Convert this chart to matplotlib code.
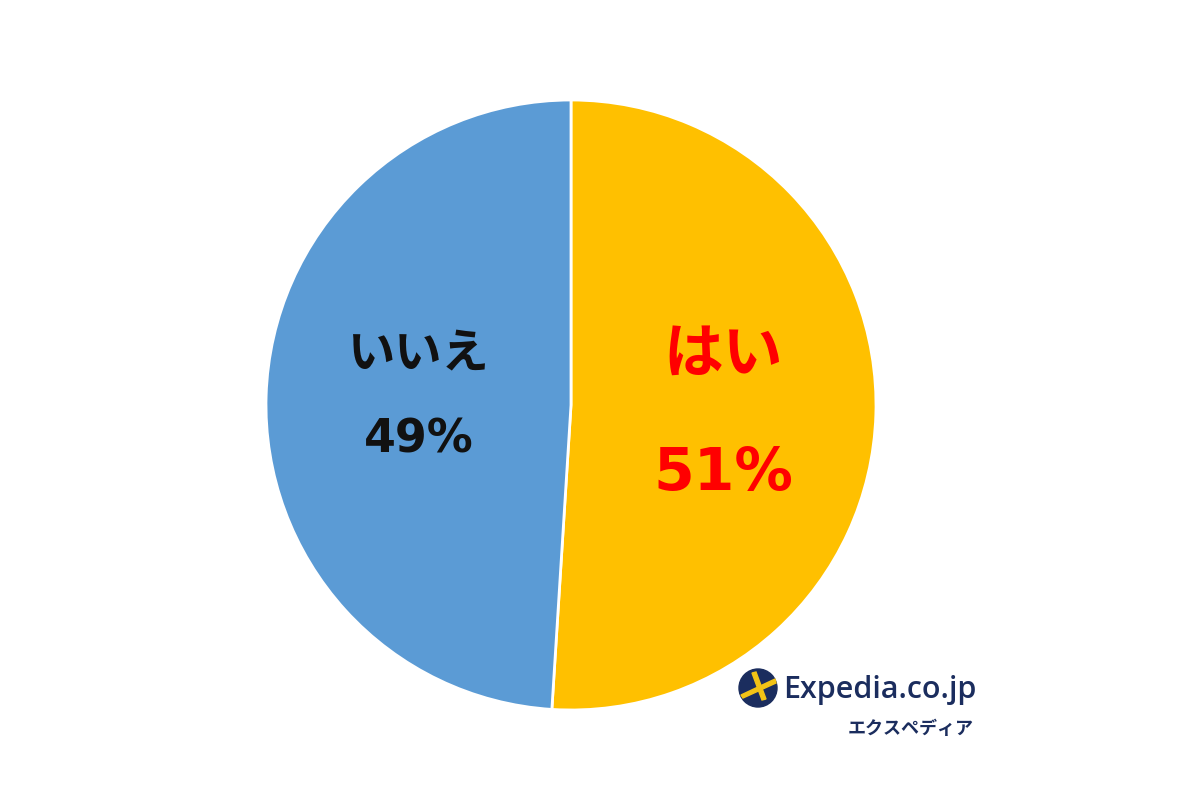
import matplotlib
matplotlib.use("Agg")
import matplotlib.pyplot as plt
from matplotlib.patches import Circle, Polygon

plt.rcParams['font.family'] = ['Noto Sans CJK JP', 'DejaVu Sans']

labels = ['はい', 'いいえ']
values = [51, 49]
colors = ['#FFC000', '#5B9BD5']
text_colors = ['#FF0000', '#111111']

fig = plt.figure(figsize=(12, 8), dpi=100)
fig.patch.set_facecolor('white')

# pie axes: centre ~ (571, 405) px, radius ~ 305 px
r = 305
ax = fig.add_axes([(571 - r) / 1200, (395 - r) / 800, 2 * r / 1200, 2 * r / 800])
ax.pie(values, colors=colors, startangle=90, counterclock=False,
       wedgeprops=dict(edgecolor='white', linewidth=2))
ax.set_xlim(-1, 1)
ax.set_ylim(-1, 1)
ax.set_aspect('equal')
ax.axis('off')

# labels
num_font = ['DejaVu Sans']
ax.text(0.50, 0.165, labels[0], ha='center', va='center', fontsize=43,
        fontweight='bold', color=text_colors[0])
ax.text(0.50, -0.225, f'{values[0]}%', ha='center', va='center', fontsize=42,
        fontweight='bold', color=text_colors[0], family=num_font)
ax.text(-0.50, 0.17, labels[1], ha='center', va='center', fontsize=34,
        fontweight='bold', color=text_colors[1])
ax.text(-0.50, -0.115, f'{values[1]}%', ha='center', va='center', fontsize=33,
        fontweight='bold', color=text_colors[1], family=num_font)

# logo
lax = fig.add_axes([0, 0, 1, 1], facecolor='none')
lax.set_xlim(0, 1200)
lax.set_ylim(800, 0)
lax.axis('off')
navy = '#1B2D5E'
lax.add_patch(Circle((758, 688), 19, color=navy))
lax.add_patch(Polygon([[741, 695], [775, 679], [776, 683], [743, 698]],
                      closed=True, color='#F2C316'))
lax.add_patch(Polygon([[752, 673], [756, 672], [766, 699], [762, 700]],
                      closed=True, color='#F2C316'))
lax.text(783, 690, 'Expedia.co.jp', ha='left', va='center', fontsize=22,
         fontweight='semibold', color=navy, family=['Open Sans', 'DejaVu Sans'])
lax.text(974, 728, 'エクスペディア', ha='right', va='center', fontsize=13,
         fontweight='bold', color=navy)

fig.savefig('out.png', dpi=100)
